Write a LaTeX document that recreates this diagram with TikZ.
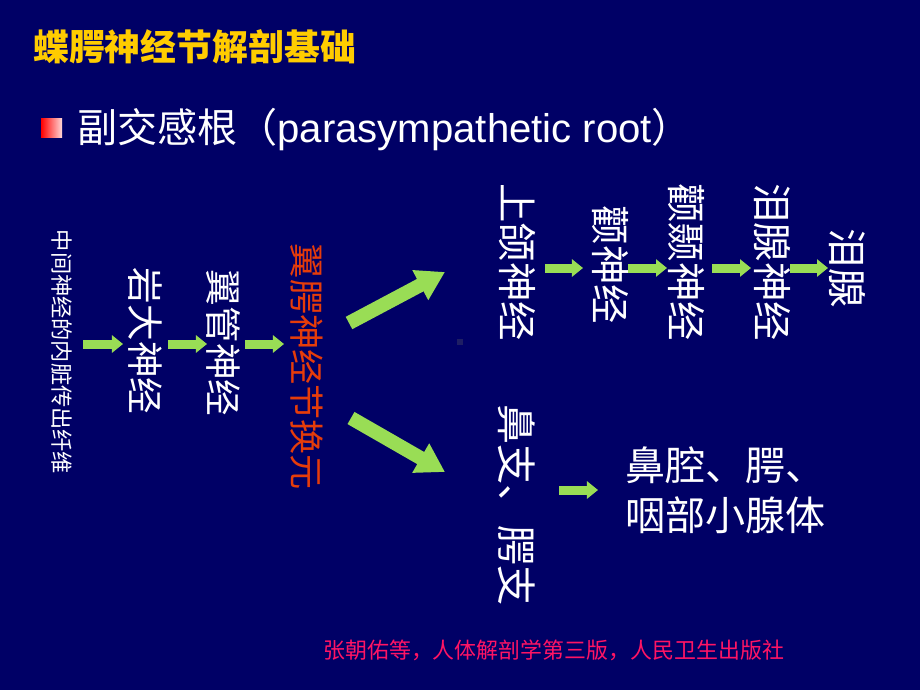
\documentclass[tikz,border=0pt]{standalone}
\usepackage{fontspec}
\setmainfont{Liberation Sans}
\newfontfamily\cjk{Noto Sans CJK SC}
\usepackage{tikz}
\usetikzlibrary{arrows.meta, calc}

\definecolor{bgblue}{RGB}{0,0,102}
\definecolor{titleyellow}{RGB}{255,204,0}
\definecolor{arrowgreen}{RGB}{153,221,85}
\definecolor{ganglionred}{RGB}{230,60,10}
\definecolor{refpink}{RGB}{255,20,100}
\definecolor{specks}{RGB}{30,30,100}

\begin{document}
\begin{tikzpicture}[x=0.025cm, y=-0.025cm,
    vtext/.style={rotate=-90, inner sep=0pt, text=white},
    smallarrow/.style={draw=arrowgreen, line width=0.225cm, -{Triangle[length=0.275cm, width=0.425cm]}},
    bigarrow/.style={draw=arrowgreen, line width=0.35cm, -{Triangle[length=0.7cm, width=0.8cm]}}]
    \fill[bgblue] (0,0) rectangle (920,690);
    \node[anchor=base west, inner sep=0pt, text=titleyellow, font=\cjk\bfseries\fontsize{25.5pt}{26pt}\selectfont] (title) at (33,61) {蝶腭神经节解剖基础};
    \shade[left color=red, right color={rgb,255:red,255;green,215;blue,215}] (41,118) rectangle (62,137);
    \node[anchor=base west, inner sep=0pt, text=white, font=\fontsize{28.5pt}{30pt}\selectfont] (root) at (77,142) {{\cjk 副交感根（}parasympathetic root{\cjk ）}};

    \node[vtext, font=\cjk\fontsize{15.8pt}{16pt}\selectfont] (zj) at (62,352) {中间神经的内脏传出纤维};
    \node[vtext, font=\cjk\fontsize{26pt}{26pt}\selectfont] (yd) at (145,341) {岩大神经};
    \node[vtext, font=\cjk\fontsize{26pt}{26pt}\selectfont] (yg) at (223,343) {翼管神经};
    \node[vtext, text=ganglionred, font=\cjk\fontsize{25pt}{25pt}\selectfont] (yy) at (307,367) {翼腭神经节换元};
    \node[vtext, font=\cjk\fontsize{28pt}{28pt}\selectfont] (shh) at (517,262) {上颌神经};
    \node[vtext, font=\cjk\fontsize{28pt}{28pt}\selectfont] (quan) at (610,265) {颧神经};
    \node[vtext, font=\cjk\fontsize{28pt}{28pt}\selectfont] (qn) at (686,262) {颧颞神经};
    \node[vtext, font=\cjk\fontsize{28pt}{28pt}\selectfont] (lxsj) at (772,262) {泪腺神经};
    \node[vtext, font=\cjk\fontsize{28pt}{28pt}\selectfont] (lx) at (847,268) {泪腺};
    \node[vtext, font=\cjk\fontsize{28.5pt}{28.5pt}\selectfont] (bz) at (517,505) {鼻支、腭支};
    \node[anchor=west, inner sep=0pt, align=left, text=white, font=\cjk\fontsize{28.5pt}{35.6pt}\selectfont] (nq) at (625,490) {鼻腔、腭、\\咽部小腺体};
    \node[anchor=west, inner sep=0pt, text=refpink, font=\cjk\fontsize{15.6pt}{16pt}\selectfont] (ref) at (323,650) {张朝佑等，人体解剖学第三版，人民卫生出版社};

    \coordinate (rowa) at (0,344);
    \coordinate (rowb) at (0,268);
    \coordinate (rowc) at (0,490);
    \draw[smallarrow, shorten <=0.525cm, shorten >=0.55cm] (zj |- rowa) -- (yd |- rowa);
    \draw[smallarrow, shorten <=0.575cm, shorten >=0.4cm] (yd |- rowa) -- (yg |- rowa);
    \draw[smallarrow, shorten <=0.55cm, shorten >=0.575cm] (yg |- rowa) -- (yy |- rowa);
    \draw[bigarrow] ($(yy.center)+(42,-44)$) -- ($(shh.center)+(-72,10)$);
    \draw[bigarrow] ($(yy.center)+(44,51)$) -- ($(bz.center)+(-72,-33)$);
    \draw[smallarrow, shorten <=0.7cm, shorten >=0.675cm] (shh |- rowb) -- (quan |- rowb);
    \draw[smallarrow, shorten <=0.45cm, shorten >=0.475cm] (quan |- rowb) -- (qn |- rowb);
    \draw[smallarrow, shorten <=0.65cm, shorten >=0.525cm] (qn |- rowb) -- (lxsj |- rowb);
    \draw[smallarrow, shorten <=0.45cm, shorten >=0.475cm] (lxsj |- rowb) -- (lx |- rowb);
    \draw[smallarrow, shorten <=1.05cm, shorten >=0.675cm] (bz |- rowc) -- (nq.west |- rowc);
    \fill[specks] (457,339) rectangle (463,345);
\end{tikzpicture}
\end{document}
